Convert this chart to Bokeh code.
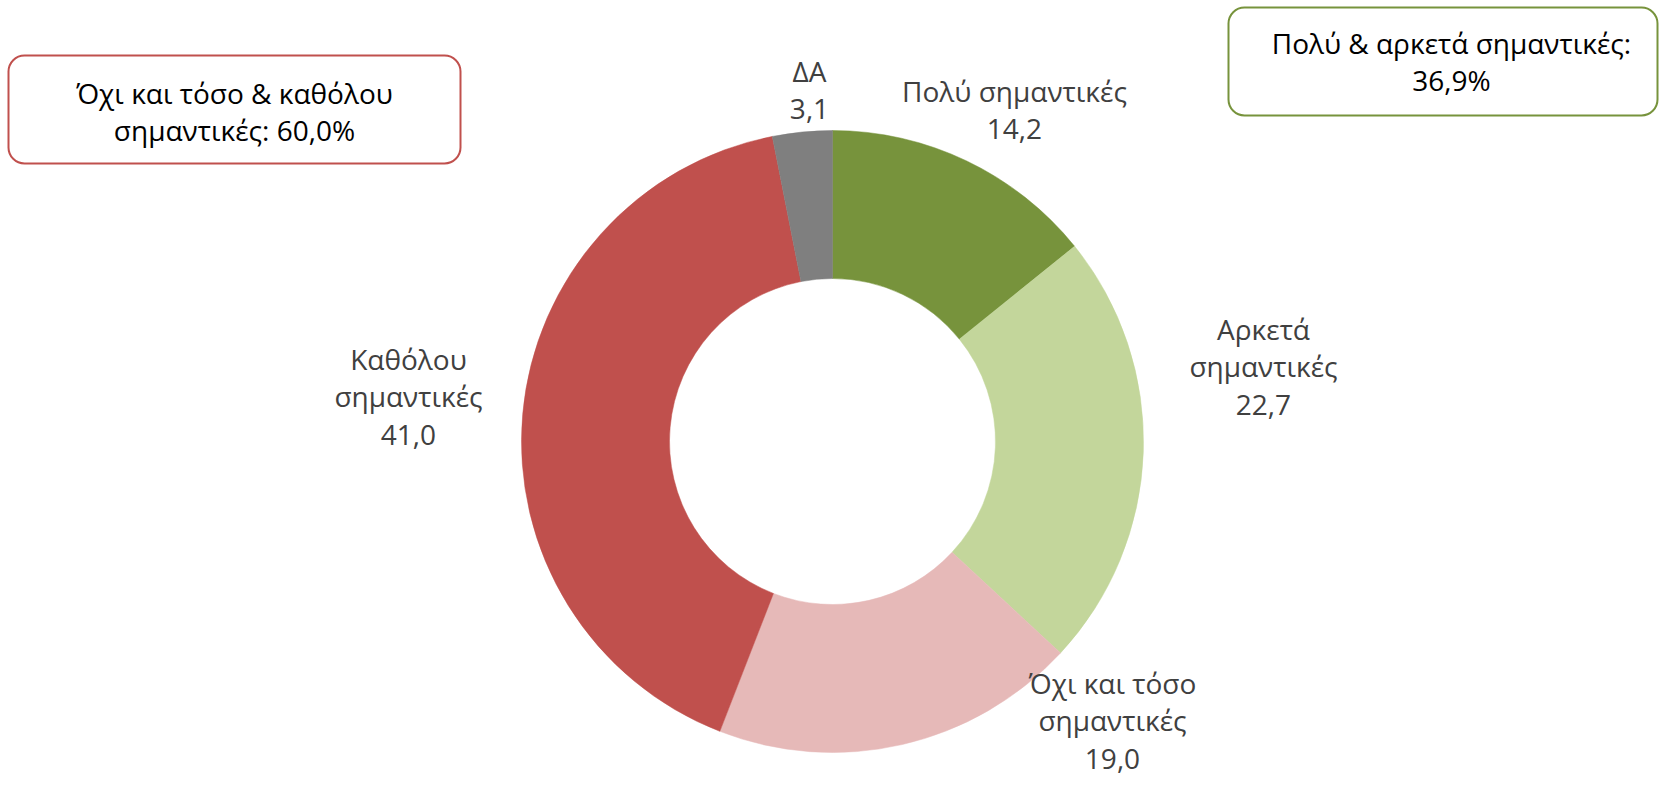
import math
from bokeh.plotting import figure
from bokeh.models import Range1d, ColumnDataSource
from bokeh.core.properties import value
from bokeh.embed import file_html
from bokeh.resources import INLINE

# ---- data ----
categories = ["Πολύ σημαντικές", "Αρκετά σημαντικές", "Όχι και τόσο σημαντικές", "Καθόλου σημαντικές", "ΔΑ"]
label_texts = ["Πολύ σημαντικές\n14,2", "Αρκετά\nσημαντικές\n22,7", "Όχι και τόσο\nσημαντικές\n19,0",
               "Καθόλου\nσημαντικές\n41,0", "ΔΑ\n3,1"]
values = [14.2, 22.7, 19.0, 41.0, 3.1]
colors = ["#77933C", "#C3D69B", "#E6B9B8", "#C0504D", "#7F7F7F"]
summary_texts = ["Όχι και τόσο & καθόλου\nσημαντικές: 60,0%", "Πολύ & αρκετά σημαντικές:\n36,9%"]
summary_colors = ["#C0504D", "#77933C"]

# ---- layout (picture pixel coordinates, y downward) ----
W, H = 1660, 779
PAGE_H = 795
def fy(y):
    return PAGE_H - y

CX, CY = 832, 441
R_OUT, R_IN = 311, 163
label_pos = [(1014, 109), (1263, 366), (1112, 720), (408, 396), (809, 89)]
box_rects = [(8, 460, 55, 163), (1228, 1657, 7, 115)]  # left, right, top, bottom
box_text_pos = [(234, 111), (1451, 61)]

p = figure(width=W, height=H, output_backend="svg", toolbar_location=None,
           x_range=Range1d(0, W), y_range=Range1d(PAGE_H - H, PAGE_H),
           min_border=0, outline_line_color=None)
p.axis.visible = False
p.grid.visible = False
p.background_fill_color = "white"
p.border_fill_color = "white"

total = sum(values)
starts, ends = [], []
cum = 0.0
for v in values:
    starts.append(math.pi / 2 - 2 * math.pi * cum / total)
    cum += v
    ends.append(math.pi / 2 - 2 * math.pi * cum / total)

src = ColumnDataSource(dict(start=starts, end=ends, color=colors, cat=categories))
p.annular_wedge(x=CX, y=fy(CY), inner_radius=R_IN, outer_radius=R_OUT,
                start_angle="start", end_angle="end", direction="clock",
                fill_color="color", line_color="color", line_width=0.5, source=src)

# data labels
p.text(x=[q[0] for q in label_pos], y=[fy(q[1]) for q in label_pos], text=label_texts,
       text_font=value("Open Sans"), text_font_size="28px", text_color="#404040",
       text_align="center", text_baseline="middle", text_line_height=0.98)

# summary boxes
p.quad(left=[b[0] for b in box_rects], right=[b[1] for b in box_rects],
       top=[fy(b[2]) for b in box_rects], bottom=[fy(b[3]) for b in box_rects],
       fill_color="white", line_color=summary_colors, line_width=2, border_radius=16)
p.text(x=[q[0] for q in box_text_pos], y=[fy(q[1]) for q in box_text_pos], text=summary_texts,
       text_font=value("Open Sans"), text_font_size="28px", text_color="#000000",
       text_align="center", text_baseline="middle", text_line_height=0.98)

open("out.html", "w").write(file_html(p, INLINE))
